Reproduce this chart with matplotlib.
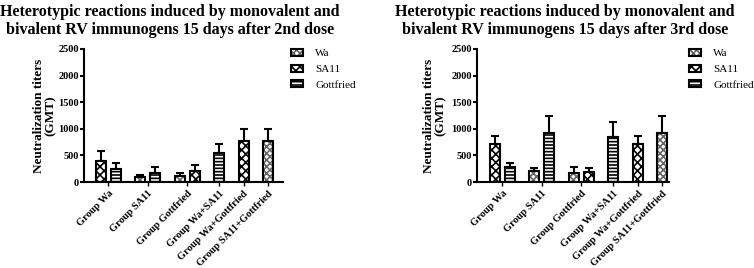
import numpy as np
import matplotlib
matplotlib.use("Agg")
import matplotlib.pyplot as plt
from matplotlib.patches import Patch

groups = ["Group Wa", "Group SA11", "Group Gottfried",
          "Group Wa+SA11", "Group Wa+Gottfried", "Group SA11+Gottfried"]
# which strains were tested in each group (homologous strain left out)
strains = [["SA11", "Gottfried"], ["Wa", "Gottfried"], ["Wa", "SA11"],
           ["Gottfried"], ["SA11"], ["Wa"]]

# 15 days after 2nd dose: GMT and upper error
gmt_2nd = [[390, 235], [100, 170], [110, 210], [545], [770], [770]]
err_2nd = [[185, 120], [30, 105], [55, 115], [165], [230], [230]]

# 15 days after 3rd dose
gmt_3rd = [[710, 280], [200, 912], [170, 182], [837], [706], [912]]
err_3rd = [[155, 82], [56, 325], [105, 74], [288], [156], [325]]

titles = ["Heterotypic reactions induced by monovalent and\n"
          "bivalent RV immunogens 15 days after 2nd dose",
          "Heterotypic reactions induced by monovalent and\n"
          "bivalent RV immunogens 15 days after 3rd dose"]

# hatch pattern and hatch colour per strain
hatch_of = {"Wa": ("xxxxx", "#666666"), "SA11": ("xxxx", "black"),
            "Gottfried": ("-----", "black")}

plt.rcParams["font.family"] = ["Liberation Serif", "DejaVu Serif"]
plt.rcParams["hatch.linewidth"] = 1.2

STEP = 1.5   # bar pitch inside a group
GAP = 0.95   # extra space between groups


def positions():
    xs, ticks = [], []
    x = 0.0
    for s in strains:
        pos = [x + i * STEP for i in range(len(s))]
        xs.append(pos)
        ticks.append(np.mean(pos))
        x = pos[-1] + STEP + GAP
    return xs, ticks


def draw(ax, gmt, err, xlim):
    xs, ticks = positions()
    for pos, names, vals, errs in zip(xs, strains, gmt, err):
        for x, name, v, e in zip(pos, names, vals, errs):
            h, hc = hatch_of[name]
            # hatch layer (hatch takes the edge colour), then black outline
            ax.bar(x, v, width=1.0, color="white", edgecolor=hc,
                   linewidth=0, hatch=h, zorder=2)
            ax.bar(x, v, width=1.0, fill=False, edgecolor="black",
                   linewidth=1.5, zorder=3)
            ax.errorbar(x, v, yerr=[[0], [e]], fmt="none", ecolor="black",
                        elinewidth=1.5, capsize=3, capthick=1.5, zorder=1)
    ax.set_xlim(*xlim)
    ax.set_ylim(0, 2500)
    ax.set_yticks(np.arange(0, 2501, 500))
    ax.set_xticks(ticks)
    ax.set_xticklabels(groups, rotation=45, ha="right", rotation_mode="anchor",
                       fontsize=7.5, fontweight="bold")
    for t in ax.get_yticklabels():
        t.set_fontsize(7.5)
        t.set_fontweight("bold")
    ax.tick_params(axis="y", length=3, width=1.5, pad=0.5)
    ax.tick_params(axis="x", length=3, width=1.0, pad=2)
    for side in ("top", "right"):
        ax.spines[side].set_visible(False)
    for side in ("left", "bottom"):
        ax.spines[side].set_linewidth(1.5)
    ax.set_ylabel("Neutralization titers\n(GMT)", fontsize=9.5, fontweight="bold",
                  linespacing=1.05)


fig = plt.figure(figsize=(7.54, 2.68), dpi=100)
ax1 = fig.add_axes([84 / 754, 86 / 268, 199 / 754, 133 / 268])
ax2 = fig.add_axes([477 / 754, 86 / 268, 192 / 754, 133 / 268])
draw(ax1, gmt_2nd, err_2nd, (-1.7, 18.25))
draw(ax2, gmt_3rd, err_3rd, (-1.8, 17.4))
ax1.yaxis.set_label_coords((57 - 84) / 199, 0.5)
ax2.yaxis.set_label_coords((447 - 477) / 192, 0.5)

fig.text(170 / 754, 0.985, titles[0], ha="center", va="top", fontsize=11.5,
         fontweight="bold", linespacing=1.2)
fig.text(565 / 754, 0.985, titles[1], ha="center", va="top", fontsize=11.5,
         fontweight="bold", linespacing=1.2)

for ax, x0 in ((ax1, 291), (ax2, 689)):
    handles = []
    for name in ("Wa", "SA11", "Gottfried"):
        h, hc = hatch_of[name]
        handles.append((Patch(facecolor="white", edgecolor=hc, linewidth=0, hatch=h),
                        Patch(fill=False, edgecolor="black", linewidth=1.5)))
    fig.legend(handles=handles, labels=["Wa", "SA11", "Gottfried"],
               loc="upper left",
               bbox_to_anchor=(x0 / 754, 1 - 49 / 268), frameon=False,
               fontsize=8, handlelength=1.1, handleheight=0.6,
               handletextpad=1.1, labelspacing=0.55, borderpad=0,
               borderaxespad=0)

fig.savefig("out.png", dpi=100)
